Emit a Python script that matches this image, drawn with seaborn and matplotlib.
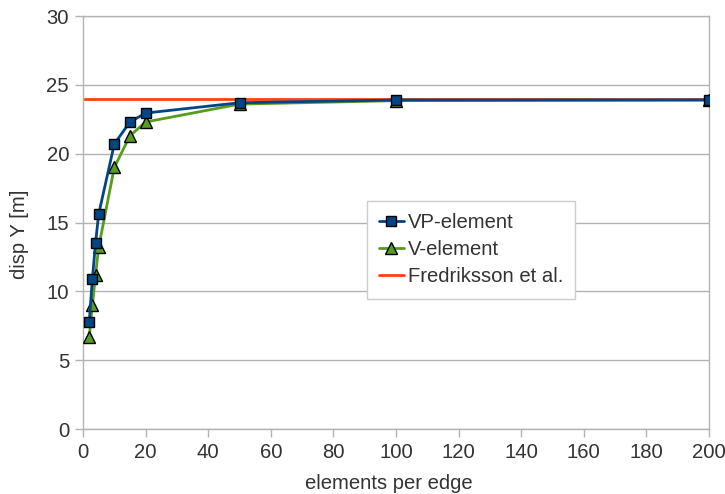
import matplotlib
matplotlib.use("Agg")
import matplotlib.pyplot as plt
import seaborn as sns
import pandas as pd

elements = [2, 3, 4, 5, 10, 15, 20, 50, 100, 200]
vp_element = [7.8, 10.9, 13.5, 15.6, 20.7, 22.3, 22.95, 23.7, 23.9, 23.9]
v_element = [6.7, 9.0, 11.2, 13.2, 19.0, 21.3, 22.3, 23.6, 23.85, 23.9]
fredriksson = 23.95
x_ticks = [0, 20, 40, 60, 80, 100, 120, 140, 160, 180, 200]
y_ticks = [0, 5, 10, 15, 20, 25, 30]

sns.set_theme(style="white")
plt.rcParams['font.family'] = ['Liberation Sans', 'DejaVu Sans']

df = pd.DataFrame({"elements": elements, "VP-element": vp_element, "V-element": v_element})

fig = plt.figure(figsize=(7.25, 4.94), dpi=100)
ax = fig.add_axes([83/725, 1 - 429/494, (709 - 83)/725, (429 - 16)/494])

grid_c = "#b3b3b3"
text_c = "#333333"
fs = 14.6

ax.axhline(fredriksson, color="#ff420e", lw=2, zorder=2, label="Fredriksson et al.")
sns.lineplot(data=df, x="elements", y="VP-element", ax=ax, color="#004586", lw=2,
             marker="s", markersize=7, markeredgecolor="black", markeredgewidth=1,
             label="VP-element", zorder=4)
sns.lineplot(data=df, x="elements", y="V-element", ax=ax, color="#579d1c", lw=2,
             marker="^", markersize=8, markeredgecolor="black", markeredgewidth=1,
             label="V-element", zorder=3)

ax.set_xlim(0, 200)
ax.set_ylim(0, 30)
ax.set_xticks(x_ticks)
ax.set_yticks(y_ticks)
ax.yaxis.grid(True, color=grid_c, lw=1)
ax.xaxis.grid(False)
ax.set_axisbelow(True)
for s in ax.spines.values():
    s.set_color(grid_c)
    s.set_linewidth(1)
ax.tick_params(axis="both", which="both", direction="out", length=6, width=1,
               bottom=True, left=True,
               color=grid_c, labelcolor=text_c, labelsize=fs, pad=4)
ax.set_xlabel("elements per edge", fontsize=fs, color=text_c)
ax.set_ylabel("disp Y [m]", fontsize=fs, color=text_c)
ax.xaxis.set_label_coords((388.5 - 83)/626, (429 - 474)/413)
ax.yaxis.set_label_coords((29 - 83)/626, (429 - 234)/413)

h, l = ax.get_legend_handles_labels()
order = [l.index("VP-element"), l.index("V-element"), l.index("Fredriksson et al.")]
leg = ax.legend([h[i] for i in order], [l[i] for i in order],
                loc="upper left", bbox_to_anchor=((367 - 83)/626, 1 - (201 - 16)/413),
                fontsize=fs, frameon=True, fancybox=False, framealpha=1,
                edgecolor="#cccccc", handlelength=1.2, handletextpad=0.2,
                labelspacing=0.4, borderpad=0.6, borderaxespad=0)
leg.get_frame().set_linewidth(1)
for t in leg.get_texts():
    t.set_color(text_c)

fig.savefig("out.png", dpi=100)
